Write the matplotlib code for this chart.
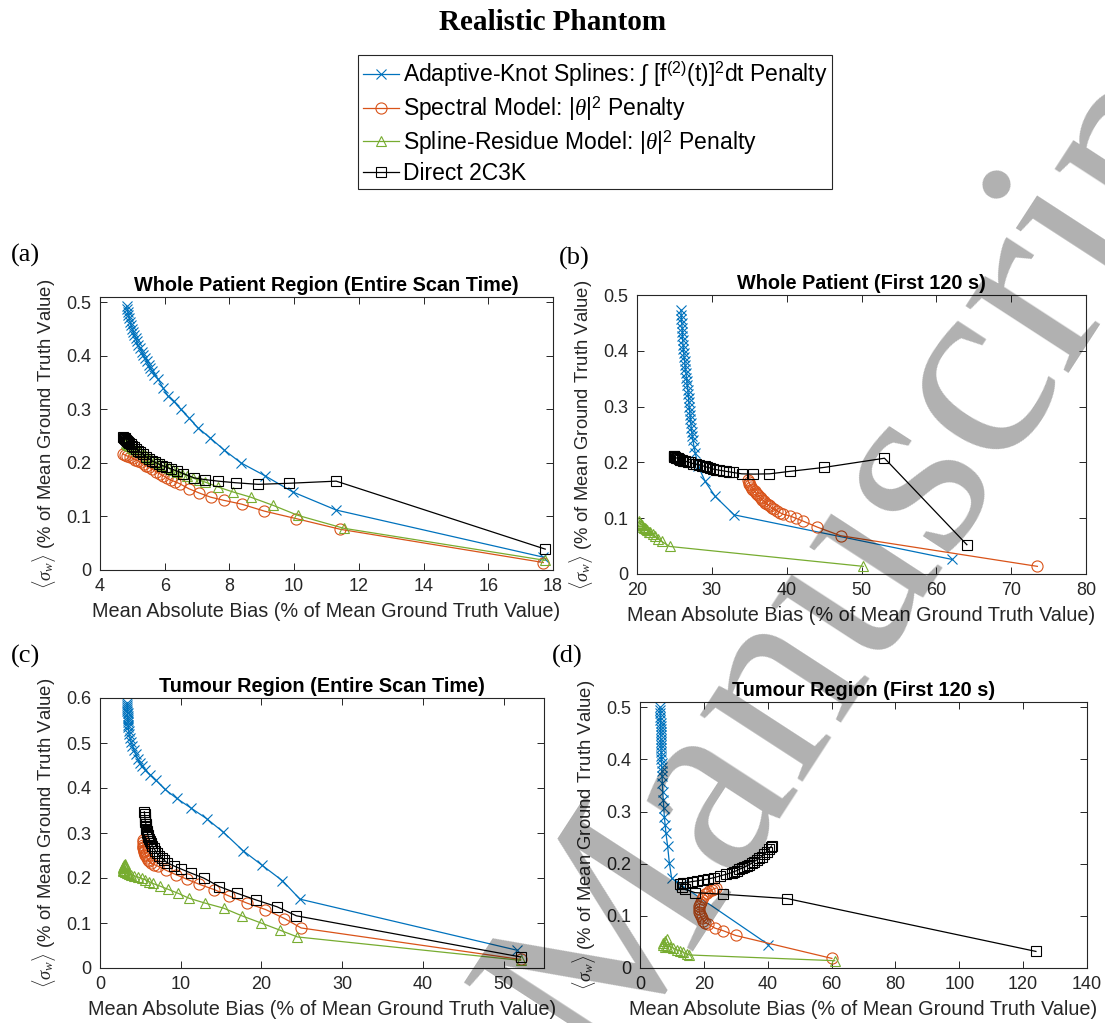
import matplotlib
matplotlib.use("Agg")
import matplotlib.pyplot as plt

plt.rcParams['font.family'] = ['Liberation Sans', 'DejaVu Sans']
plt.rcParams['mathtext.fontset'] = 'custom'
plt.rcParams['mathtext.rm'] = 'Liberation Sans'
plt.rcParams['mathtext.it'] = 'Liberation Serif:italic'
plt.rcParams['mathtext.bf'] = 'Liberation Sans:bold'

# ---------------- data ----------------
# (a) Whole patient region, entire scan time
knot_a_x = [4.82, 4.84, 4.86, 4.88, 4.91, 4.93, 4.96, 5.00, 5.03, 5.06, 5.10, 5.13, 5.18, 5.24,
            5.29, 5.34, 5.39, 5.44, 5.50, 5.56, 5.62, 5.68, 5.80, 5.95, 6.10, 6.28, 6.50, 6.75,
            7.02, 7.40, 7.84, 8.36, 9.10, 9.95, 11.30, 17.70]
knot_a_y = [0.494, 0.488, 0.482, 0.476, 0.470, 0.464, 0.457, 0.451, 0.445, 0.439, 0.433, 0.427,
            0.420, 0.414, 0.408, 0.402, 0.396, 0.390, 0.383, 0.377, 0.371, 0.365, 0.356, 0.340,
            0.325, 0.315, 0.300, 0.284, 0.266, 0.247, 0.224, 0.200, 0.176, 0.146, 0.112, 0.024]
spec_a_x = [4.71, 4.76, 4.84, 4.92, 5.01, 5.09, 5.18, 5.26, 5.35, 5.43, 5.52, 5.62, 5.73, 5.84,
            5.96, 6.07, 6.18, 6.32, 6.47, 6.74, 7.06, 7.42, 7.84, 8.38, 9.08, 10.06, 11.43, 17.70]
spec_a_y = [0.217, 0.215, 0.213, 0.211, 0.209, 0.206, 0.204, 0.201, 0.198, 0.195, 0.192, 0.188,
            0.184, 0.180, 0.176, 0.172, 0.168, 0.165, 0.161, 0.152, 0.144, 0.136, 0.130, 0.123,
            0.110, 0.096, 0.076, 0.014]
resid_a_x = [4.80, 4.82, 4.87, 4.93, 5.00, 5.06, 5.15, 5.24, 5.32, 5.41, 5.49, 5.58, 5.69, 5.80,
             5.91, 6.03, 6.14, 6.25, 6.39, 6.53, 6.70, 6.86, 7.06, 7.26, 7.65, 8.10, 8.66, 9.34,
             10.12, 11.53, 17.76]
resid_a_y = [0.237, 0.235, 0.233, 0.231, 0.228, 0.226, 0.223, 0.220, 0.216, 0.213, 0.210, 0.207,
             0.203, 0.199, 0.196, 0.193, 0.190, 0.187, 0.183, 0.180, 0.176, 0.172, 0.168, 0.164,
             0.155, 0.146, 0.136, 0.121, 0.102, 0.078, 0.018]
direct_a_x = [4.72, 4.74, 4.76, 4.78, 4.81, 4.84, 4.87, 4.91, 4.95, 5.00, 5.06, 5.12, 5.18, 5.25,
              5.33, 5.41, 5.50, 5.60, 5.70, 5.81, 5.93, 6.05, 6.19, 6.38, 6.58, 6.92, 7.23, 7.65,
              8.19, 8.89, 9.84, 11.30, 17.76]
direct_a_y = [0.248, 0.247, 0.246, 0.245, 0.243, 0.241, 0.239, 0.237, 0.235, 0.232, 0.229, 0.226,
              0.223, 0.220, 0.216, 0.212, 0.208, 0.204, 0.201, 0.198, 0.195, 0.192, 0.189, 0.185,
              0.180, 0.172, 0.169, 0.166, 0.163, 0.160, 0.162, 0.166, 0.039]

# (b) Whole patient, first 120 s
knot_b_x = [25.87, 25.90, 25.94, 25.99, 26.03, 26.06, 26.08, 26.10, 26.15, 26.20, 26.25, 26.30,
            26.36, 26.42, 26.48, 26.55, 26.61, 26.67, 26.73, 26.80, 26.85, 26.89, 26.93, 26.98,
            27.03, 27.09, 27.14, 27.20, 27.26, 27.32, 27.39, 27.47, 27.62, 27.78, 28.20, 29.10,
            30.45, 32.98, 62.15]
knot_b_y = [0.473, 0.465, 0.457, 0.449, 0.441, 0.434, 0.426, 0.419, 0.411, 0.404, 0.396, 0.389,
            0.382, 0.375, 0.367, 0.360, 0.352, 0.345, 0.338, 0.330, 0.323, 0.315, 0.308, 0.300,
            0.293, 0.285, 0.278, 0.270, 0.262, 0.255, 0.248, 0.240, 0.228, 0.217, 0.193, 0.166,
            0.139, 0.106, 0.026]
spec_b_x = [34.80, 34.90, 35.02, 35.15, 35.28, 35.42, 35.56, 35.72, 35.88, 36.04, 36.20, 36.38,
            36.56, 36.75, 36.94, 37.14, 37.36, 37.58, 37.82, 38.06, 38.36, 38.70, 39.08, 39.56,
            40.46, 41.20, 42.15, 44.10, 47.20, 73.50]
spec_b_y = [0.168, 0.165, 0.162, 0.159, 0.156, 0.153, 0.151, 0.148, 0.146, 0.143, 0.141, 0.138,
            0.136, 0.133, 0.131, 0.128, 0.126, 0.123, 0.121, 0.118, 0.116, 0.113, 0.110, 0.107,
            0.104, 0.100, 0.095, 0.084, 0.0686, 0.0137]
resid_b_x = [20.30, 20.44, 20.58, 20.72, 20.86, 21.00, 21.10, 21.24, 21.40, 21.58, 21.80, 22.10,
             22.44, 22.85, 23.30, 24.35, 50.25]
resid_b_y = [0.095, 0.091, 0.089, 0.087, 0.085, 0.083, 0.082, 0.080, 0.078, 0.076, 0.0745, 0.071,
             0.0673, 0.063, 0.0584, 0.0494, 0.0137]
direct_b_x = [24.90, 24.95, 25.00, 25.10, 25.20, 25.30, 25.45, 25.60, 25.78, 25.95, 26.15, 26.45,
              26.75, 27.10, 27.45, 27.87, 28.25, 28.67, 29.05, 29.40, 29.80, 30.20, 30.60, 31.00,
              31.45, 31.90, 32.35, 32.80, 34.00, 35.56, 37.70, 40.46, 45.00, 53.07, 64.08]
direct_b_y = [0.212, 0.211, 0.210, 0.209, 0.208, 0.208, 0.207, 0.206, 0.205, 0.204, 0.203, 0.202,
              0.201, 0.200, 0.198, 0.197, 0.196, 0.194, 0.193, 0.191, 0.190, 0.188, 0.187, 0.186,
              0.185, 0.184, 0.183, 0.182, 0.1795, 0.179, 0.1795, 0.184, 0.191, 0.2075, 0.0525]

# (c) Tumour region, entire scan time
knot_c_x = [3.36, 3.37, 3.38, 3.39, 3.40, 3.41, 3.42, 3.43, 3.45, 3.47, 3.49, 3.51, 3.56, 3.63,
            3.72, 3.85, 4.01, 4.20, 4.42, 4.67, 4.95, 5.25, 5.57, 6.19, 6.94, 8.05, 9.50, 11.23,
            13.20, 15.27, 17.70, 20.10, 22.60, 24.77, 51.65]
knot_c_y = [0.590, 0.585, 0.580, 0.576, 0.571, 0.566, 0.561, 0.556, 0.551, 0.546, 0.541, 0.536,
            0.527, 0.519, 0.512, 0.503, 0.494, 0.485, 0.475, 0.465, 0.456, 0.448, 0.441, 0.430,
            0.417, 0.397, 0.377, 0.356, 0.332, 0.302, 0.261, 0.228, 0.194, 0.153, 0.0395]
spec_c_x = [5.32, 5.32, 5.33, 5.35, 5.37, 5.41, 5.45, 5.50, 5.56, 5.63, 5.72, 5.81, 5.94, 6.08,
            6.30, 6.70, 7.21, 8.20, 9.46, 10.80, 12.30, 14.18, 15.99, 18.24, 20.50, 22.84, 24.91,
            52.10]
spec_c_y = [0.284, 0.279, 0.274, 0.270, 0.266, 0.263, 0.260, 0.257, 0.254, 0.251, 0.248, 0.244,
            0.241, 0.238, 0.233, 0.230, 0.226, 0.217, 0.207, 0.197, 0.186, 0.174, 0.160, 0.144,
            0.130, 0.110, 0.089, 0.019]
resid_c_x = [3.15, 3.10, 3.02, 2.95, 2.90, 2.86, 2.84, 2.90, 3.00, 3.15, 3.30, 3.47, 3.65, 3.83,
             4.25, 4.73, 5.18, 5.63, 6.08, 6.53, 7.43, 8.42, 9.68, 11.03, 13.06, 15.31, 17.57,
             19.96, 22.30, 24.46, 52.10]
resid_c_y = [0.232, 0.230, 0.228, 0.226, 0.224, 0.222, 0.218, 0.216, 0.215, 0.214, 0.212, 0.211,
             0.209, 0.207, 0.205, 0.202, 0.199, 0.196, 0.192, 0.188, 0.182, 0.175, 0.166, 0.155,
             0.144, 0.133, 0.116, 0.100, 0.084, 0.069, 0.017]
direct_c_x = [5.50, 5.52, 5.55, 5.58, 5.63, 5.68, 5.72, 5.76, 5.82, 5.88, 5.94, 6.00, 6.08, 6.18,
              6.30, 6.45, 6.63, 6.84, 7.07, 7.35, 7.66, 7.98, 8.33, 9.13, 10.04, 11.26, 12.83,
              14.77, 16.98, 19.37, 21.94, 24.32, 52.10]
direct_c_y = [0.347, 0.342, 0.336, 0.330, 0.325, 0.320, 0.315, 0.310, 0.305, 0.300, 0.295, 0.291,
              0.287, 0.282, 0.278, 0.272, 0.267, 0.261, 0.255, 0.250, 0.244, 0.239, 0.234, 0.227,
              0.220, 0.211, 0.200, 0.181, 0.166, 0.151, 0.136, 0.116, 0.0246]

# (d) Tumour region, first 120 s
knot_d_x = [6.26, 6.30, 6.34, 6.38, 6.42, 6.45, 6.47, 6.48, 6.49, 6.50, 6.53, 6.55, 6.57, 6.60,
            6.64, 6.68, 6.72, 6.76, 6.80, 6.86, 6.92, 6.99, 7.14, 7.30, 7.46, 7.62, 7.88, 8.14,
            8.66, 9.18, 9.91, 12.70, 40.20]
knot_d_y = [0.500, 0.494, 0.488, 0.482, 0.476, 0.470, 0.464, 0.458, 0.452, 0.446, 0.440, 0.434,
            0.427, 0.421, 0.414, 0.407, 0.400, 0.393, 0.386, 0.377, 0.368, 0.354, 0.338, 0.322,
            0.306, 0.290, 0.274, 0.258, 0.233, 0.202, 0.172, 0.160, 0.045]
spec_d_x = [23.79, 23.20, 22.43, 21.60, 20.87, 20.30, 19.82, 19.40, 18.99, 18.75, 18.57, 18.50,
            18.57, 18.75, 18.99, 19.35, 19.82, 20.50, 21.39, 23.47, 26.08, 29.94, 60.10]
spec_d_y = [0.153, 0.152, 0.150, 0.147, 0.1445, 0.141, 0.137, 0.132, 0.1275, 0.123, 0.118, 0.113,
            0.108, 0.103, 0.099, 0.095, 0.091, 0.087, 0.084, 0.0765, 0.0714, 0.0624, 0.0184]
resid_d_x = [8.35, 7.80, 7.30, 7.30, 7.82, 8.60, 9.39, 10.43, 11.48, 12.52, 13.56, 14.61, 15.44,
             61.00]
resid_d_y = [0.055, 0.051, 0.047, 0.044, 0.041, 0.042, 0.041, 0.038, 0.035, 0.033, 0.030, 0.027,
             0.025, 0.014]
direct_d_x = [41.20, 41.00, 40.30, 39.64, 38.90, 38.08, 37.30, 36.52, 35.70, 34.95, 34.20, 33.39,
              32.60, 31.82, 31.00, 30.26, 29.50, 28.69, 26.92, 25.04, 23.16, 21.39, 19.61, 17.74,
              16.17, 14.61, 13.35, 12.52, 13.04, 14.08, 17.21, 25.87, 46.11, 124.0]
direct_d_y = [0.234, 0.2325, 0.228, 0.2227, 0.218, 0.213, 0.210, 0.207, 0.204, 0.2006, 0.198,
              0.1956, 0.193, 0.191, 0.189, 0.1866, 0.185, 0.1828, 0.1796, 0.1764, 0.1732, 0.1707,
              0.1688, 0.1669, 0.1656, 0.1637, 0.1624, 0.1605, 0.156, 0.151, 0.1445, 0.1414,
              0.1331, 0.0318]

series_labels = [r"Adaptive-Knot Splines: $\int$ [f$^{(2)}$(t)]$^2$dt Penalty",
                 r"Spectral Model: $|\theta|^2$ Penalty",
                 r"Spline-Residue Model: $|\theta|^2$ Penalty",
                 "Direct 2C3K"]
panel_titles = ["Whole Patient Region (Entire Scan Time)", "Whole Patient (First 120 s)",
                "Tumour Region (Entire Scan Time)", "Tumour Region (First 120 s)"]
panel_tags = ["(a)", "(b)", "(c)", "(d)"]
x_label = "Mean Absolute Bias (% of Mean Ground Truth Value)"
y_label = r"$\langle\sigma_w\rangle$ (% of Mean Ground Truth Value)"

# ---------------- styling ----------------
COLORS = ['#0072BD', '#D95319', '#77AC30', '#000000']
MARKERS = ['x', 'o', '^', 's']
MSIZES = [7, 8, 7.5, 7]
AXC = '#262626'
W, H = 1105, 1023

fig = plt.figure(figsize=(W / 100, H / 100), dpi=100)
fig.patch.set_facecolor('white')


def px_box(left, top, right, bottom):
    return [left / W, 1 - bottom / H, (right - left) / W, (bottom - top) / H]


panels = [
    dict(box=px_box(100, 297, 553, 570), xlim=(4, 18), ylim=(0, 0.51),
         xticks=range(4, 19, 2), yticks=[0, 0.1, 0.2, 0.3, 0.4, 0.5],
         data=[(knot_a_x, knot_a_y), (spec_a_x, spec_a_y), (resid_a_x, resid_a_y),
               (direct_a_x, direct_a_y)]),
    dict(box=px_box(637, 295, 1086, 574), xlim=(20, 80), ylim=(0, 0.5),
         xticks=range(20, 81, 10), yticks=[0, 0.1, 0.2, 0.3, 0.4, 0.5],
         data=[(knot_b_x, knot_b_y), (spec_b_x, spec_b_y), (resid_b_x, resid_b_y),
               (direct_b_x, direct_b_y)]),
    dict(box=px_box(100, 698, 544, 968), xlim=(0, 55), ylim=(0, 0.6),
         xticks=range(0, 51, 10), yticks=[0, 0.1, 0.2, 0.3, 0.4, 0.5, 0.6],
         data=[(knot_c_x, knot_c_y), (spec_c_x, spec_c_y), (resid_c_x, resid_c_y),
               (direct_c_x, direct_c_y)]),
    dict(box=px_box(640, 702, 1087, 968), xlim=(0, 140), ylim=(0, 0.51),
         xticks=range(0, 141, 20), yticks=[0, 0.1, 0.2, 0.3, 0.4, 0.5],
         data=[(knot_d_x, knot_d_y), (spec_d_x, spec_d_y), (resid_d_x, resid_d_y),
               (direct_d_x, direct_d_y)]),
]

legend_handles = None
for i, p in enumerate(panels):
    ax = fig.add_axes(p['box'])
    handles = []
    for (xs, ys), c, m, ms in zip(p['data'], COLORS, MARKERS, MSIZES):
        h, = ax.plot(xs, ys, color=c, marker=m, markersize=ms, markerfacecolor='none',
                     markeredgecolor=c, markeredgewidth=0.8, linewidth=0.9)
        handles.append(h)
    if legend_handles is None:
        legend_handles = handles
    ax.set_xlim(*p['xlim'])
    ax.set_ylim(*p['ylim'])
    ax.set_xticks(list(p['xticks']))
    ax.set_yticks(p['yticks'])
    ax.set_yticklabels(['0' if v == 0 else f"{v:g}" for v in p['yticks']])
    ax.tick_params(direction='in', length=5, width=0.7, colors=AXC, labelsize=13,
                   top=True, right=True, pad=6)
    for s in ax.spines.values():
        s.set_color(AXC)
        s.set_linewidth(0.8)
    ax.set_title(panel_titles[i], fontsize=14.3, fontweight='bold', color='black', pad=4)
    ax.set_xlabel(x_label, fontsize=14.3, color=AXC, labelpad=5)
    ax.set_ylabel(y_label, fontsize=13.3, color=AXC, labelpad=6)

# panel tags
for tag, (tx, ty) in zip(panel_tags, [(25, 255), (574, 258), (25, 656), (567, 656)]):
    fig.text(tx / W, 1 - ty / H, tag, ha='center', va='center', fontsize=19,
             family='Liberation Serif')

# main title
fig.text(0.5, 1 - 22 / H, "Realistic Phantom", ha='center', va='center', fontsize=21,
         fontweight='bold', family='Liberation Serif')

# shared legend
leg = fig.legend(legend_handles, series_labels, loc='upper left',
                 bbox_to_anchor=(358 / W, 1 - 55 / H), bbox_transform=fig.transFigure,
                 fontsize=16.5, frameon=True, fancybox=False, framealpha=1,
                 edgecolor=AXC, borderpad=0.2, borderaxespad=0, handlelength=1.6,
                 handletextpad=0.15, labelspacing=0.22)
leg.get_frame().set_linewidth(0.8)

# manuscript watermark
fig.text(603 / W, 1 - 1078 / H, "Manuscript", rotation=57, rotation_mode='anchor',
         ha='left', va='baseline', fontsize=192, family='Liberation Serif',
         color='black', alpha=0.31, zorder=10)

fig.savefig("out.png", dpi=100, facecolor='white')
